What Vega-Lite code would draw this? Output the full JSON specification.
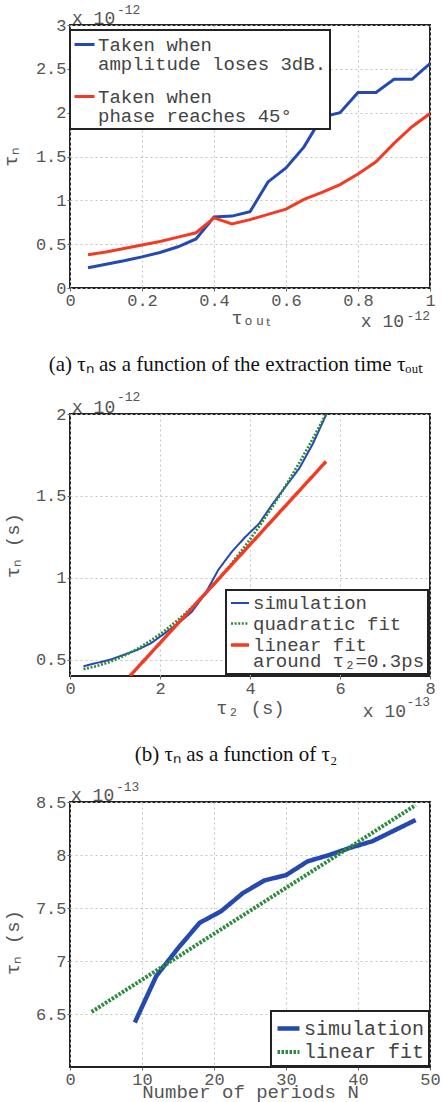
{
  "$schema": "https://vega.github.io/schema/vega-lite/v6.json",
  "background": "white",
  "padding": {"left": 0, "top": 3, "right": 0, "bottom": 0},
  "bounds": "flush",
  "spacing": 126,
  "resolve": {
    "scale": {"color": "independent", "strokeDash": "independent", "strokeWidth": "independent", "x": "independent", "y": "independent"},
    "legend": {"color": "independent", "strokeDash": "independent", "strokeWidth": "independent"}
  },
  "config": {
    "view": {"stroke": "#222", "strokeWidth": 2},
    "axis": {
      "labelFont": "Liberation Mono", "labelFontSize": 17, "labelColor": "#555",
      "titleFont": "Liberation Mono", "titleFontSize": 19, "titleColor": "#555", "titleFontWeight": "normal",
      "grid": true, "gridColor": "#c4c4c4", "gridDash": [2, 3], "gridWidth": 1,
      "domain": false, "ticks": true, "tickColor": "#666", "tickSize": 3,
      "labelPadding": 1, "labelFlush": false, "labelOverlap": false, "labelBound": false, "format": "~g"
    },
    "legend": {
      "title": null, "labelFont": "Liberation Mono", "labelFontSize": 19, "labelColor": "#444",
      "fillColor": "white", "strokeColor": "#222", "padding": 3, "symbolType": "stroke",
      "symbolSize": 400, "labelOffset": 2, "labelLimit": 500, "cornerRadius": 0
    },
    "title": {"font": "Liberation Serif", "fontSize": 21, "fontWeight": "normal", "color": "#111"},
    "text": {"font": "Liberation Mono", "color": "#555"}
  },
  "datasets": {
    "a": [
      {"x": 0.05, "y": 0.23, "series": "Taken when\namplitude loses 3dB."},
      {"x": 0.10, "y": 0.27, "series": "Taken when\namplitude loses 3dB."},
      {"x": 0.15, "y": 0.31, "series": "Taken when\namplitude loses 3dB."},
      {"x": 0.20, "y": 0.355, "series": "Taken when\namplitude loses 3dB."},
      {"x": 0.25, "y": 0.405, "series": "Taken when\namplitude loses 3dB."},
      {"x": 0.30, "y": 0.47, "series": "Taken when\namplitude loses 3dB."},
      {"x": 0.35, "y": 0.56, "series": "Taken when\namplitude loses 3dB."},
      {"x": 0.40, "y": 0.81, "series": "Taken when\namplitude loses 3dB."},
      {"x": 0.45, "y": 0.82, "series": "Taken when\namplitude loses 3dB."},
      {"x": 0.50, "y": 0.87, "series": "Taken when\namplitude loses 3dB."},
      {"x": 0.55, "y": 1.21, "series": "Taken when\namplitude loses 3dB."},
      {"x": 0.60, "y": 1.37, "series": "Taken when\namplitude loses 3dB."},
      {"x": 0.65, "y": 1.61, "series": "Taken when\namplitude loses 3dB."},
      {"x": 0.70, "y": 1.95, "series": "Taken when\namplitude loses 3dB."},
      {"x": 0.75, "y": 2.0, "series": "Taken when\namplitude loses 3dB."},
      {"x": 0.80, "y": 2.23, "series": "Taken when\namplitude loses 3dB."},
      {"x": 0.85, "y": 2.23, "series": "Taken when\namplitude loses 3dB."},
      {"x": 0.90, "y": 2.38, "series": "Taken when\namplitude loses 3dB."},
      {"x": 0.95, "y": 2.38, "series": "Taken when\namplitude loses 3dB."},
      {"x": 1.00, "y": 2.56, "series": "Taken when\namplitude loses 3dB."},
      {"x": 0.05, "y": 0.38, "series": "Taken when\nphase reaches 45°"},
      {"x": 0.10, "y": 0.41, "series": "Taken when\nphase reaches 45°"},
      {"x": 0.15, "y": 0.45, "series": "Taken when\nphase reaches 45°"},
      {"x": 0.20, "y": 0.49, "series": "Taken when\nphase reaches 45°"},
      {"x": 0.25, "y": 0.53, "series": "Taken when\nphase reaches 45°"},
      {"x": 0.30, "y": 0.58, "series": "Taken when\nphase reaches 45°"},
      {"x": 0.35, "y": 0.63, "series": "Taken when\nphase reaches 45°"},
      {"x": 0.40, "y": 0.80, "series": "Taken when\nphase reaches 45°"},
      {"x": 0.45, "y": 0.73, "series": "Taken when\nphase reaches 45°"},
      {"x": 0.50, "y": 0.78, "series": "Taken when\nphase reaches 45°"},
      {"x": 0.55, "y": 0.84, "series": "Taken when\nphase reaches 45°"},
      {"x": 0.60, "y": 0.90, "series": "Taken when\nphase reaches 45°"},
      {"x": 0.65, "y": 1.01, "series": "Taken when\nphase reaches 45°"},
      {"x": 0.70, "y": 1.09, "series": "Taken when\nphase reaches 45°"},
      {"x": 0.75, "y": 1.18, "series": "Taken when\nphase reaches 45°"},
      {"x": 0.80, "y": 1.30, "series": "Taken when\nphase reaches 45°"},
      {"x": 0.85, "y": 1.44, "series": "Taken when\nphase reaches 45°"},
      {"x": 0.90, "y": 1.65, "series": "Taken when\nphase reaches 45°"},
      {"x": 0.95, "y": 1.84, "series": "Taken when\nphase reaches 45°"},
      {"x": 1.00, "y": 1.99, "series": "Taken when\nphase reaches 45°"}
    ],
    "b": [
      {"x": 0.3, "y": 0.46, "series": "simulation"},
      {"x": 0.6, "y": 0.48, "series": "simulation"},
      {"x": 0.9, "y": 0.50, "series": "simulation"},
      {"x": 1.2, "y": 0.53, "series": "simulation"},
      {"x": 1.5, "y": 0.56, "series": "simulation"},
      {"x": 1.8, "y": 0.60, "series": "simulation"},
      {"x": 2.1, "y": 0.66, "series": "simulation"},
      {"x": 2.4, "y": 0.72, "series": "simulation"},
      {"x": 2.7, "y": 0.79, "series": "simulation"},
      {"x": 3.0, "y": 0.90, "series": "simulation"},
      {"x": 3.3, "y": 1.05, "series": "simulation"},
      {"x": 3.6, "y": 1.16, "series": "simulation"},
      {"x": 3.9, "y": 1.25, "series": "simulation"},
      {"x": 4.2, "y": 1.33, "series": "simulation"},
      {"x": 4.5, "y": 1.45, "series": "simulation"},
      {"x": 4.8, "y": 1.56, "series": "simulation"},
      {"x": 5.1, "y": 1.67, "series": "simulation"},
      {"x": 5.4, "y": 1.82, "series": "simulation"},
      {"x": 5.7, "y": 2.0, "series": "simulation"},
      {"x": 0.3, "y": 0.442, "series": "quadratic fit"},
      {"x": 0.6, "y": 0.461, "series": "quadratic fit"},
      {"x": 0.9, "y": 0.488, "series": "quadratic fit"},
      {"x": 1.2, "y": 0.523, "series": "quadratic fit"},
      {"x": 1.5, "y": 0.566, "series": "quadratic fit"},
      {"x": 1.8, "y": 0.617, "series": "quadratic fit"},
      {"x": 2.1, "y": 0.675, "series": "quadratic fit"},
      {"x": 2.4, "y": 0.742, "series": "quadratic fit"},
      {"x": 2.7, "y": 0.817, "series": "quadratic fit"},
      {"x": 3.0, "y": 0.900, "series": "quadratic fit"},
      {"x": 3.3, "y": 0.991, "series": "quadratic fit"},
      {"x": 3.6, "y": 1.090, "series": "quadratic fit"},
      {"x": 3.9, "y": 1.197, "series": "quadratic fit"},
      {"x": 4.2, "y": 1.311, "series": "quadratic fit"},
      {"x": 4.5, "y": 1.434, "series": "quadratic fit"},
      {"x": 4.8, "y": 1.565, "series": "quadratic fit"},
      {"x": 5.1, "y": 1.704, "series": "quadratic fit"},
      {"x": 5.4, "y": 1.851, "series": "quadratic fit"},
      {"x": 5.7, "y": 2.005, "series": "quadratic fit"},
      {"x": 1.33, "y": 0.40, "series": "linear fit\naround τ₂=0.3ps"},
      {"x": 5.69, "y": 1.71, "series": "linear fit\naround τ₂=0.3ps"}
    ],
    "c": [
      {"x": 9, "y": 6.42, "series": "simulation"},
      {"x": 12, "y": 6.86, "series": "simulation"},
      {"x": 15, "y": 7.12, "series": "simulation"},
      {"x": 18, "y": 7.36, "series": "simulation"},
      {"x": 21, "y": 7.47, "series": "simulation"},
      {"x": 24, "y": 7.64, "series": "simulation"},
      {"x": 27, "y": 7.76, "series": "simulation"},
      {"x": 30, "y": 7.81, "series": "simulation"},
      {"x": 33, "y": 7.94, "series": "simulation"},
      {"x": 36, "y": 8.00, "series": "simulation"},
      {"x": 39, "y": 8.07, "series": "simulation"},
      {"x": 42, "y": 8.13, "series": "simulation"},
      {"x": 45, "y": 8.23, "series": "simulation"},
      {"x": 48, "y": 8.33, "series": "simulation"},
      {"x": 3, "y": 6.52, "series": "linear fit"},
      {"x": 48, "y": 8.47, "series": "linear fit"}
    ]
  },
  "vconcat": [
    {
      "width": 360,
      "height": 263,
      "title": {"text": "(a) τₙ as a function of the extraction time τₒᵤₜ", "orient": "bottom", "anchor": "middle", "dx": -14, "offset": 23},
      "layer": [
        {
          "data": {"name": "a"},
          "mark": {"type": "line", "clip": true, "strokeWidth": 3},
          "encoding": {
            "x": {"field": "x", "type": "quantitative", "scale": {"domain": [0, 1], "nice": false},
                  "axis": {"values": [0, 0.2, 0.4, 0.6, 0.8, 1], "title": "τₒᵤₜ", "titlePadding": 0}},
            "y": {"field": "y", "type": "quantitative", "scale": {"domain": [0, 3], "nice": false},
                  "axis": {"values": [0, 0.5, 1, 1.5, 2, 2.5, 3], "title": "τₙ", "titleX": -60, "titleBaseline": "middle"}},
            "color": {"field": "series", "type": "nominal",
                      "scale": {"domain": ["Taken when\namplitude loses 3dB.", "Taken when\nphase reaches 45°"], "range": ["#2549b0", "#f23b22"]},
                      "legend": {"orient": "none", "legendX": 0, "legendY": 5, "labelExpr": "split(datum.label, '\\n')",
                                 "rowPadding": 11, "symbolStrokeWidth": 3,
                                 "encode": {"labels": {"update": {"lineHeight": {"value": 19}}}, "legend": {"update": {"strokeWidth": {"value": 2}}}}}}
          }
        },
        {
          "data": {"values": [{}]},
          "mark": {"type": "text", "align": "left", "baseline": "alphabetic", "fontSize": 18, "dx": 2, "dy": -1},
          "encoding": {"x": {"datum": 0}, "y": {"datum": 3}, "text": {"value": "x 10"}}
        },
        {
          "data": {"values": [{}]},
          "mark": {"type": "text", "align": "left", "baseline": "alphabetic", "fontSize": 13, "dx": 47, "dy": -11},
          "encoding": {"x": {"datum": 0}, "y": {"datum": 3}, "text": {"value": "-12"}}
        },
        {
          "data": {"values": [{}]},
          "mark": {"type": "text", "align": "right", "baseline": "alphabetic", "fontSize": 18, "dx": -26, "dy": 39},
          "encoding": {"x": {"datum": 1}, "y": {"datum": 0}, "text": {"value": "x 10"}}
        },
        {
          "data": {"values": [{}]},
          "mark": {"type": "text", "align": "right", "baseline": "alphabetic", "fontSize": 13, "dx": 0, "dy": 32},
          "encoding": {"x": {"datum": 1}, "y": {"datum": 0}, "text": {"value": "-12"}}
        }
      ]
    },
    {
      "width": 360,
      "height": 262,
      "title": {"text": "(b) τₙ as a function of τ₂", "orient": "bottom", "anchor": "middle", "dx": -14, "offset": 23},
      "layer": [
        {
          "data": {"name": "b"},
          "mark": {"type": "line", "clip": true},
          "encoding": {
            "x": {"field": "x", "type": "quantitative", "scale": {"domain": [0, 8], "nice": false},
                  "axis": {"values": [0, 2, 4, 6, 8], "title": "τ₂ (s)", "titlePadding": 2}},
            "y": {"field": "y", "type": "quantitative", "scale": {"domain": [0.4, 2], "nice": false},
                  "axis": {"values": [0.5, 1, 1.5, 2], "title": "τₙ (s)", "titleX": -58, "titleBaseline": "middle"}},
            "color": {"field": "series", "type": "nominal",
                      "scale": {"domain": ["simulation", "quadratic fit", "linear fit\naround τ₂=0.3ps"], "range": ["#2549b0", "#2e8b3e", "#f23b22"]},
                      "legend": {"orient": "bottom-right", "offset": 2, "labelExpr": "split(datum.label, '\\n')",
                                 "rowPadding": 0, "symbolSize": 324,
                                 "encode": {"labels": {"update": {"lineHeight": {"value": 16}}}, "legend": {"update": {"strokeWidth": {"value": 2}}}}}},
            "strokeDash": {"field": "series", "type": "nominal",
                           "scale": {"domain": ["simulation", "quadratic fit", "linear fit\naround τ₂=0.3ps"], "range": [[1, 0], [2, 1.6], [1, 0]]}},
            "strokeWidth": {"field": "series", "type": "nominal",
                            "scale": {"domain": ["simulation", "quadratic fit", "linear fit\naround τ₂=0.3ps"], "range": [2, 3.4, 2]}}
          }
        },
        {
          "data": {"values": [{}]},
          "mark": {"type": "text", "align": "left", "baseline": "alphabetic", "fontSize": 18, "dx": 2, "dy": -1},
          "encoding": {"x": {"datum": 0}, "y": {"datum": 2}, "text": {"value": "x 10"}}
        },
        {
          "data": {"values": [{}]},
          "mark": {"type": "text", "align": "left", "baseline": "alphabetic", "fontSize": 13, "dx": 47, "dy": -13},
          "encoding": {"x": {"datum": 0}, "y": {"datum": 2}, "text": {"value": "-12"}}
        },
        {
          "data": {"values": [{}]},
          "mark": {"type": "text", "align": "right", "baseline": "alphabetic", "fontSize": 18, "dx": -24, "dy": 41},
          "encoding": {"x": {"datum": 8}, "y": {"datum": 0.4}, "text": {"value": "x 10"}}
        },
        {
          "data": {"values": [{}]},
          "mark": {"type": "text", "align": "right", "baseline": "alphabetic", "fontSize": 13, "dx": 0, "dy": 30},
          "encoding": {"x": {"datum": 8}, "y": {"datum": 0.4}, "text": {"value": "-13"}}
        }
      ]
    },
    {
      "width": 360,
      "height": 265,
      "layer": [
        {
          "data": {"name": "c"},
          "mark": {"type": "line", "clip": true},
          "encoding": {
            "x": {"field": "x", "type": "quantitative", "scale": {"domain": [0, 50], "nice": false},
                  "axis": {"values": [0, 10, 20, 30, 40, 50], "title": "Number of periods N", "titlePadding": -5}},
            "y": {"field": "y", "type": "quantitative", "scale": {"domain": [6, 8.5], "nice": false},
                  "axis": {"values": [6.5, 7, 7.5, 8, 8.5], "title": "τₙ (s)", "titleX": -58, "titleY": 140, "titleBaseline": "middle"}},
            "color": {"field": "series", "type": "nominal",
                      "scale": {"domain": ["simulation", "linear fit"], "range": ["#2549b0", "#2e8b3e"]},
                      "legend": {"orient": "bottom-right", "offset": 1, "rowPadding": 0, "symbolSize": 484, "labelFontSize": 20, "padding": 4,
                                 "encode": {"legend": {"update": {"strokeWidth": {"value": 2}}}}}},
            "strokeDash": {"field": "series", "type": "nominal",
                           "scale": {"domain": ["simulation", "linear fit"], "range": [[1, 0], [2.5, 1.5]]}},
            "strokeWidth": {"field": "series", "type": "nominal",
                            "scale": {"domain": ["simulation", "linear fit"], "range": [4.5, 4]}}
          }
        },
        {
          "data": {"values": [{}]},
          "mark": {"type": "text", "align": "left", "baseline": "alphabetic", "fontSize": 18, "dx": 1, "dy": -1},
          "encoding": {"x": {"datum": 0}, "y": {"datum": 8.5}, "text": {"value": "x 10"}}
        },
        {
          "data": {"values": [{}]},
          "mark": {"type": "text", "align": "left", "baseline": "alphabetic", "fontSize": 13, "dx": 46, "dy": -11},
          "encoding": {"x": {"datum": 0}, "y": {"datum": 8.5}, "text": {"value": "-13"}}
        }
      ]
    }
  ]
}
